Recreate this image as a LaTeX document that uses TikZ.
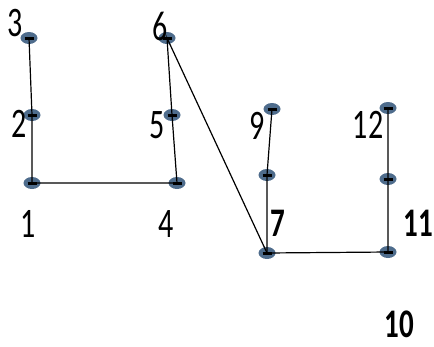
\documentclass[tikz,border=0pt]{standalone}
\usepackage{fontspec}
\setmainfont{Carlito}
\usepackage{graphicx}
\usetikzlibrary{shapes.geometric}
\definecolor{dotblue}{RGB}{78,108,140}
\tikzset{
  vdot/.style={ellipse, minimum width=17pt, minimum height=12pt, inner sep=0pt, fill=dotblue,
    path picture={\draw[black, line width=3pt] ([xshift=-4.5pt]path picture bounding box.center) -- ([xshift=4.5pt]path picture bounding box.center);}},
  edge/.style={draw=black, line width=1.2pt},
  lab/.style={inner sep=0pt, font=\fontsize{30}{30}\selectfont},
  blab/.style={inner sep=0pt, font=\fontsize{29}{29}\selectfont\bfseries}
}
\newcommand{\tallnum}[1]{\scalebox{1}[1.4]{#1}}
\begin{document}
\begin{tikzpicture}[x=1pt,y=-1pt]
\useasboundingbox (0,0) rectangle (434,346);
% dots
\node[vdot] (d3) at (29,38) {};
\node[vdot] (d2) at (32,115) {};
\node[vdot] (d1) at (32,183) {};
\node[vdot] (d4) at (177,183) {};
\node[vdot] (d5) at (172,115) {};
\node[vdot] (d6) at (167,38) {};
\node[vdot] (d9) at (272,109) {};
\node[vdot] (da) at (267,175) {};
\node[vdot] (d7) at (267,253) {};
\node[vdot] (d12) at (388,108) {};
\node[vdot] (db) at (388,179) {};
\node[vdot] (d11) at (388,252) {};
% edges
\path[edge] (d3.center) -- (d2.center) -- (d1.center) -- (d4.center) -- (d5.center) -- (d6.center) -- (d7.center);
\path[edge] (d9.center) -- (da.center) -- (d7.center) -- (d11.center) -- (db.center) -- (d12.center);
% labels
\node[lab] (l3) at (15,23) {\tallnum{3}};
\node[lab] (l2) at (19,124) {\tallnum{2}};
\node[lab] (l1) at (28,224) {\tallnum{1}};
\node[lab] (l4) at (166,224) {\tallnum{4}};
\node[lab] (l5) at (157,125) {\tallnum{5}};
\node[lab] (l6) at (160,26) {\tallnum{6}};
\node[lab] (l9) at (257,126) {\tallnum{9}};
\node[lab] (l12) at (368,125) {\tallnum{12}};
\node[blab] (l7) at (278,223) {\tallnum{7}};
\node[blab] (l11) at (418,223) {\tallnum{11}};
\node[blab] (l10) at (399,324) {\tallnum{10}};
\end{tikzpicture}
\end{document}
